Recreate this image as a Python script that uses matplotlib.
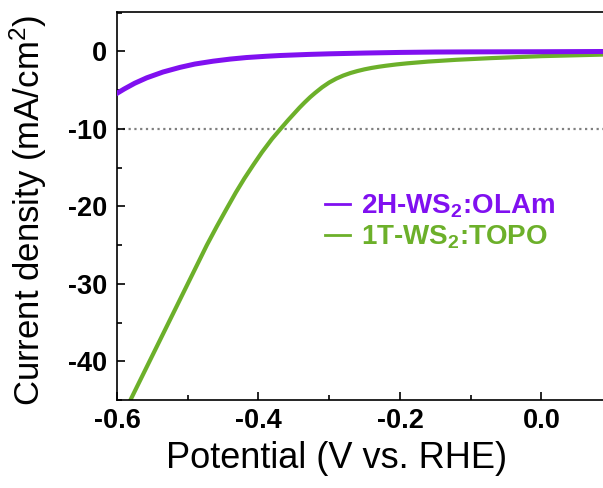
import numpy as np
import matplotlib
matplotlib.use('Agg')
import matplotlib.pyplot as plt
from matplotlib.ticker import MultipleLocator

plt.rcParams['font.family'] = ['Liberation Sans', 'DejaVu Sans']
plt.rcParams['mathtext.default'] = 'regular'
plt.rcParams['axes.unicode_minus'] = False

# LSV polarisation curves (potential in V vs. RHE, current density in mA/cm2)
v_2h = [-0.600, -0.590, -0.575, -0.558, -0.535, -0.511, -0.490, -0.464, -0.440, -0.417,
        -0.390, -0.370, -0.330, -0.300, -0.250, -0.200, -0.150, -0.100, 0.000, 0.087]
j_2h = [-5.4, -4.85, -4.1, -3.4, -2.65, -2.05, -1.62, -1.25, -0.98, -0.78,
        -0.62, -0.52, -0.38, -0.30, -0.20, -0.12, -0.07, -0.05, -0.03, 0.0]

v_1t = [-0.581, -0.554, -0.527, -0.500, -0.473, -0.459, -0.445, -0.432, -0.420,
        -0.407, -0.395, -0.381, -0.367, -0.358, -0.350, -0.342, -0.335, -0.327,
        -0.320, -0.310, -0.300, -0.290, -0.280, -0.270, -0.260, -0.250, -0.240,
        -0.230, -0.220, -0.205, -0.190, -0.160, -0.120, -0.070, 0.000, 0.087]
j_1t = [-45.0, -40.0, -35.0, -30.0, -25.0, -22.6, -20.3, -18.2, -16.4,
        -14.6, -13.0, -11.3, -9.8, -8.85, -8.05, -7.25, -6.6, -5.9,
        -5.35, -4.62, -4.0, -3.5, -3.1, -2.78, -2.52, -2.3, -2.12,
        -1.97, -1.84, -1.67, -1.53, -1.3, -1.07, -0.85, -0.6, -0.40]

labels = ['2H-WS$_2$:OLAm', '1T-WS$_2$:TOPO']
colors = ['#8010f0', '#6cb02a']
j_ref = -10

fig = plt.figure(figsize=(6.03, 4.88), dpi=100)
ax = fig.add_axes([117/603, 1 - 400/488, 1 - 117/603, 388/488])

ax.axhline(j_ref, color='#808080', ls=(0, (1, 1.6)), lw=1.6, zorder=1)
ax.plot(v_2h, j_2h, color=colors[0], lw=3.6, label=labels[0], zorder=3,
        solid_joinstyle='round')
ax.plot(v_1t, j_1t, color=colors[1], lw=3.0, label=labels[1], zorder=2,
        solid_joinstyle='round')

ax.set_xlim(-0.6, 0.087)
ax.set_ylim(-45, 5.1)
ax.xaxis.set_major_locator(MultipleLocator(0.2))
ax.xaxis.set_minor_locator(MultipleLocator(0.1))
ax.yaxis.set_major_locator(MultipleLocator(10))
ax.yaxis.set_minor_locator(MultipleLocator(5))
ax.xaxis.set_major_formatter(lambda x, p: '%.1f' % x)

ax.spines['right'].set_visible(False)
for s in ['left', 'bottom', 'top']:
    ax.spines[s].set_linewidth(1.2)
ax.tick_params(which='both', direction='in', width=1.2, top=False, right=False)
ax.tick_params(which='major', length=6, labelsize=19.5)
ax.tick_params(axis='x', which='major', pad=6)
ax.tick_params(axis='y', which='major', pad=7)
ax.tick_params(which='minor', length=3.5)
for t in ax.get_xticklabels() + ax.get_yticklabels():
    t.set_fontweight('bold')

ax.set_xlabel('Potential (V vs. RHE)', fontsize=26)
ax.set_ylabel('Current density (mA/cm$^2$)', fontsize=25)
ax.xaxis.set_label_coords(0.452, -0.105)
ax.yaxis.set_label_coords(-0.14, 0.49)

leg = ax.legend(loc='upper left', bbox_to_anchor=(0.377, 0.598), frameon=False,
                handlelength=0.9, handletextpad=0.4, labelspacing=0.1,
                prop={'size': 20, 'weight': 'bold'})
for txt, c in zip(leg.get_texts(), colors):
    txt.set_color(c)
for h in leg.legend_handles:
    h.set_linewidth(2.0)

fig.savefig('out.png', dpi=100)
